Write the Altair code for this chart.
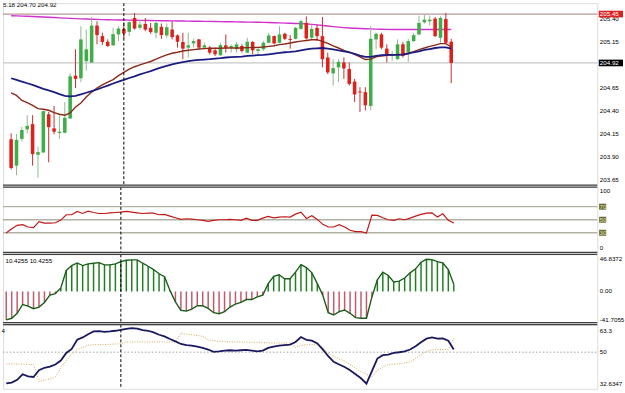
import altair as alt
import pandas as pd

# ---------------- data ----------------
open_ = [204.093, 203.807, 204.097, 204.200, 204.257, 203.925, 203.950, 204.364, 204.211, 204.161,
         204.164, 204.318, 204.782, 204.754, 204.939, 204.925, 205.325, 205.211, 205.150, 205.111,
         205.229, 205.289, 205.257, 205.407, 205.300, 205.343, 205.300, 205.247, 205.311, 205.218,
         205.282, 205.218, 205.147, 205.086, 205.132, 205.175, 205.086, 205.086, 205.057, 205.004,
         205.111, 205.086, 205.068, 205.104, 205.032, 205.147, 205.050, 205.068, 205.139, 205.211,
         205.139, 205.236, 205.180, 205.182, 205.289, 205.354, 205.193, 205.300, 205.211, 204.979,
         204.807, 204.872, 204.925, 204.854, 204.718, 204.610, 204.604, 204.454, 205.175, 205.229,
         205.075, 204.996, 204.961, 205.122, 205.032, 205.157, 205.229, 205.361, 205.372, 205.400,
         205.193, 205.396, 205.150]
high = [204.157, 204.150, 204.229, 204.354, 204.354, 204.014, 204.407, 204.389, 204.454, 204.354,
        204.497, 204.807, 205.068, 205.318, 205.282, 205.418, 205.372, 205.247, 205.175, 205.300,
        205.318, 205.361, 205.372, 205.461, 205.389, 205.407, 205.354, 205.372, 205.347, 205.347,
        205.372, 205.229, 205.247, 205.247, 205.182, 205.180, 205.139, 205.104, 205.086, 205.139,
        205.229, 205.122, 205.147, 205.122, 205.193, 205.157, 205.086, 205.157, 205.247, 205.218,
        205.318, 205.247, 205.222, 205.311, 205.389, 205.425, 205.336, 205.336, 205.418, 205.032,
        204.961, 204.961, 204.979, 204.925, 204.747, 204.657, 204.657, 205.318, 205.247, 205.247,
        205.122, 205.050, 205.175, 205.147, 205.182, 205.247, 205.432, 205.443, 205.432, 205.418,
        205.425, 205.461, 205.180]
low = [203.764, 203.704, 204.068, 204.157, 203.807, 203.675, 203.943, 203.843, 204.147, 204.097,
       204.157, 204.311, 204.647, 204.711, 204.836, 204.918, 205.122, 205.114, 205.093, 205.104,
       205.157, 205.186, 205.211, 205.282, 205.282, 205.264, 205.236, 205.186, 205.182, 205.193,
       205.175, 205.086, 204.961, 204.979, 205.086, 205.068, 205.068, 205.014, 204.996, 204.996,
       205.032, 205.032, 205.032, 205.032, 205.025, 205.014, 205.014, 205.050, 205.132, 205.122,
       205.132, 205.168, 205.075, 205.175, 205.282, 205.175, 205.175, 205.157, 204.872, 204.800,
       204.675, 204.711, 204.747, 204.675, 204.497, 204.389, 204.407, 204.407, 205.068, 205.068,
       204.925, 204.943, 204.954, 204.979, 204.932, 205.147, 205.218, 205.347, 205.325, 205.200,
       205.139, 205.132, 204.700]
close = [203.782, 204.086, 204.193, 204.239, 203.932, 203.954, 204.397, 204.225, 204.175, 204.175,
         204.325, 204.775, 204.747, 205.175, 205.068, 205.325, 205.222, 205.147, 205.104, 205.232,
         205.293, 205.239, 205.361, 205.293, 205.336, 205.282, 205.254, 205.354, 205.222, 205.307,
         205.200, 205.150, 205.075, 205.111, 205.157, 205.086, 205.111, 205.032, 205.014, 205.114,
         205.086, 205.104, 205.122, 205.050, 205.150, 205.057, 205.068, 205.139, 205.218, 205.132,
         205.229, 205.182, 205.170, 205.300, 205.372, 205.186, 205.289, 205.211, 204.961, 204.818,
         204.864, 204.932, 204.861, 204.693, 204.579, 204.600, 204.461, 205.182, 205.236, 205.086,
         205.004, 205.014, 205.122, 204.996, 205.157, 205.222, 205.354, 205.389, 205.389, 205.211,
         205.407, 205.139, 204.920]
ma_fast = [204.597, 204.568, 204.514, 204.489, 204.461, 204.425, 204.418, 204.407, 204.382, 204.364,
           204.354, 204.379, 204.443, 204.486, 204.550, 204.604, 204.647, 204.682, 204.711, 204.739,
           204.782, 204.818, 204.854, 204.879, 204.900, 204.918, 204.936, 204.961, 204.986, 205.007,
           205.025, 205.036, 205.050, 205.057, 205.064, 205.071, 205.075, 205.079, 205.079, 205.079,
           205.082, 205.082, 205.082, 205.082, 205.086, 205.086, 205.089, 205.093, 205.100, 205.107,
           205.118, 205.125, 205.136, 205.147, 205.157, 205.164, 205.172, 205.172, 205.154, 205.132,
           205.104, 205.082, 205.057, 205.036, 205.014, 204.986, 204.957, 204.961, 204.986, 204.996,
           205.004, 205.007, 205.011, 205.014, 205.025, 205.043, 205.064, 205.082, 205.100, 205.114,
           205.129, 205.129, 205.093]
ma_mid = [204.754, 204.736, 204.718, 204.700, 204.682, 204.661, 204.639, 204.622, 204.604, 204.582,
          204.564, 204.557, 204.564, 204.579, 204.597, 204.614, 204.632, 204.654, 204.675, 204.697,
          204.718, 204.736, 204.757, 204.775, 204.797, 204.814, 204.832, 204.854, 204.872, 204.889,
          204.904, 204.918, 204.929, 204.939, 204.947, 204.954, 204.957, 204.961, 204.968, 204.972,
          204.979, 204.982, 204.986, 204.989, 204.996, 205.000, 205.004, 205.007, 205.014, 205.021,
          205.029, 205.036, 205.039, 205.046, 205.057, 205.068, 205.075, 205.079, 205.082, 205.075,
          205.068, 205.057, 205.046, 205.036, 205.018, 205.000, 204.986, 204.986, 204.996, 205.004,
          205.007, 205.007, 205.007, 205.011, 205.021, 205.036, 205.046, 205.061, 205.071, 205.082,
          205.089, 205.089, 205.075]
ma_slow = [205.432, 205.430, 205.428, 205.426, 205.424, 205.421, 205.418, 205.415, 205.412, 205.409,
           205.406, 205.403, 205.400, 205.398, 205.396, 205.394, 205.392, 205.390, 205.388, 205.387,
           205.386, 205.385, 205.384, 205.383, 205.382, 205.381, 205.380, 205.379, 205.378, 205.377,
           205.376, 205.375, 205.374, 205.373, 205.372, 205.372, 205.371, 205.370, 205.369, 205.368,
           205.367, 205.366, 205.365, 205.364, 205.363, 205.362, 205.361, 205.360, 205.358, 205.356,
           205.354, 205.352, 205.350, 205.348, 205.346, 205.343, 205.338, 205.332, 205.326, 205.320,
           205.314, 205.308, 205.303, 205.299, 205.296, 205.293, 205.291, 205.289, 205.287, 205.285,
           205.284, 205.283, 205.282, 205.282, 205.282, 205.282, 205.282, 205.282, 205.282, 205.282,
           205.282, 205.282, 205.282]
rsi = [29.7, 36.3, 41.4, 42.4, 38.9, 37.8, 47.0, 44.9, 44.9, 45.4,
       49.5, 57.6, 57.6, 62.7, 59.6, 63.2, 61.1, 59.6, 59.6, 60.6,
       61.1, 61.6, 62.7, 61.6, 60.6, 59.6, 60.1, 60.1, 57.6, 58.1,
       55.6, 53.0, 50.5, 51.5, 51.0, 50.0, 49.0, 47.5, 49.0, 50.0,
       50.0, 50.5, 50.0, 49.0, 52.5, 49.0, 49.0, 52.5, 55.1, 53.0,
       54.1, 54.6, 54.1, 58.6, 61.6, 52.0, 56.1, 50.5, 42.9, 38.9,
       38.9, 42.4, 38.9, 33.8, 31.8, 31.8, 29.7, 57.1, 56.6, 53.0,
       50.0, 49.0, 51.5, 50.0, 52.5, 55.6, 58.1, 60.1, 60.6, 54.1,
       59.1, 49.0, 44.9]
hist = [-41.5, -39.1, -31.9, -19.0, -21.4, -25.2, -22.8, -16.1, -5.5, -3.1,
        5.0, 30.5, 37.7, 41.5, 37.7, 40.1, 41.1, 42.0, 38.7, 38.7,
        40.1, 43.5, 45.4, 45.9, 45.9, 41.1, 36.7, 31.9, 25.7, 21.4,
        1.5, -15.1, -27.6, -28.6, -25.7, -20.9, -20.9, -24.7, -31.0, -32.4,
        -29.5, -22.8, -18.5, -16.1, -11.8, -11.8, -7.9, -5.5, 11.3, 21.9,
        24.3, 18.5, 18.5, 28.1, 39.1, 34.8, 27.1, 11.3, -5.5, -31.0,
        -34.3, -29.5, -27.1, -31.9, -38.2, -39.1, -39.1, -8.0, 17.0, 28.0,
        23.3, 13.7, 15.1, 19.5, 27.1, 32.9, 42.5, 46.8, 46.3, 43.5,
        41.5, 31.9, 10.4]
osc_main = [32.8, 33.2, 34.7, 37.8, 36.7, 36.3, 40.0, 41.4, 42.0, 43.2,
            45.4, 49.6, 51.8, 56.9, 58.2, 60.0, 61.5, 61.7, 61.3, 61.5,
            61.9, 62.4, 63.0, 63.3, 63.1, 62.2, 61.9, 61.0, 59.7, 58.8,
            57.3, 56.0, 54.6, 54.0, 53.7, 53.1, 52.4, 51.5, 50.2, 50.5,
            50.9, 51.1, 50.9, 51.1, 51.3, 50.9, 50.5, 50.9, 52.4, 53.1,
            53.7, 54.0, 54.2, 55.7, 58.4, 56.9, 56.4, 54.9, 51.6, 47.8,
            44.7, 43.2, 41.8, 40.0, 37.8, 35.6, 32.63, 39.6, 46.5, 48.4,
            48.7, 49.6, 50.0, 50.5, 51.5, 53.3, 55.5, 57.5, 58.2, 57.5,
            57.7, 56.4, 51.5]
osc_signal = [43.6, 43.6, 43.4, 43.4, 43.2, 43.2, 33.8, 34.5, 35.2, 36.3,
              41.4, 45.4, 48.7, 51.5, 52.7, 53.7, 54.2, 54.2, 54.2, 54.4,
              54.6, 54.7, 55.7, 55.7, 55.7, 55.7, 55.7, 55.7, 55.7, 55.7,
              55.7, 55.7, 60.6, 60.0, 59.7, 59.3, 58.8, 56.9, 56.4, 56.0,
              56.0, 55.7, 55.7, 55.7, 55.7, 55.5, 55.5, 55.3, 55.3, 55.1,
              55.1, 55.1, 55.1, 52.7, 53.7, 54.2, 54.2, 54.2, 52.4, 49.3,
              47.8, 46.3, 45.1, 43.2, 41.1, 39.2, 37.8, 36.3, 40.0, 41.8,
              43.2, 43.4, 43.6, 44.0, 44.7, 46.5, 48.7, 50.5, 51.3, 51.5,
              51.5, 51.5, 57.8]

price_ticks = [203.65, 203.90, 204.15, 204.40, 204.65, 204.90, 205.15, 205.40]
price_labels = [203.65, 203.90, 204.15, 204.40, 204.65, 205.15, 205.40]
ask_level = 205.45
bid_level = 204.92
rsi_levels = [30, 50, 70]
rsi_plain_txt = ["100", "0"]
rsi_plain_pos = [94, 6]
hist_label_vals = [46.8372, 0.0, -41.7055]
hist_label_txt = ["46.8372", "0.00", "-41.7055"]
osc_label_pos = [61.7, 50, 32.5]
osc_label_txt = ["63.3", "50", "32.6347"]
time_ticks = [2, 10, 18, 26, 34, 42, 50, 58, 66, 74, 82]
cursor_bar = 21
ohlc_text = "5.18 204.70 204.92"
hist_text = "10.4255 10.4255"

# ---------------- styling / layout ----------------
W = 601
FONT = "Liberation Sans"
FS = 6.3
H1, H2, H3, H4 = 184, 66, 69, 65
UP, DOWN = "#3fae49", "#e0201c"
WICK_UP, WICK_DOWN = "#8fb98f", "#c03030"
BOX1_HALF = 0.036   # half height of price tag boxes, in price units (~3.4 px)
BOX2_HALF = 4.6     # half height of level tag boxes, in RSI units (~3 px)

n = len(close)
df = pd.DataFrame({"i": list(range(n)), "o": open_, "h": high, "l": low, "c": close,
                   "fast": ma_fast, "mid": ma_mid, "slow": ma_slow,
                   "rsi": rsi, "hist": hist, "zero": [0.0] * n,
                   "om": osc_main, "os": osc_signal})
one = pd.DataFrame({"a": [0]})

xs = alt.Scale(domain=[-0.6, 108.3], nice=False, zero=False)
X = alt.X("i:Q", scale=xs, axis=None)


def yaxis(vals):
    return alt.Axis(orient="right", values=vals, labels=False, ticks=True, tickSize=2,
                    tickColor="black", domainColor="black", domainWidth=1, grid=False, title=None)


def borders(h, top=True, bottom=True):
    layers = []
    if top:
        layers.append(alt.Chart(one).mark_rule(color="#404040", strokeWidth=1.2).encode(
            x=alt.value(0), x2=alt.value(W), y=alt.value(0)))
    if bottom:
        layers.append(alt.Chart(one).mark_rule(color="#404040", strokeWidth=1.2).encode(
            x=alt.value(0), x2=alt.value(W), y=alt.value(h)))
    return layers


def cursor(h):
    return alt.Chart(pd.DataFrame({"i": [cursor_bar]})).mark_rule(
        color="black", strokeWidth=1, strokeDash=[3, 2]).encode(
        x=X, y=alt.value(0), y2=alt.value(h))


def labels(vals, txts, ys, color="black"):
    d = pd.DataFrame({"v": vals, "t": txts})
    return alt.Chart(d).mark_text(align="left", baseline="middle", font=FONT, fontSize=FS,
                                  color=color).encode(
        x=alt.value(W + 2.5), y=alt.Y("v:Q", scale=ys, axis=None), text="t:N")


# ---------------- panel 1: price ----------------
ys1 = alt.Scale(domain=[203.596, 205.568], nice=False, zero=False)
ask_rule = alt.Chart(pd.DataFrame({"v": [ask_level]})).mark_rule(
    color="#b89898", strokeWidth=1.3).encode(
    x=alt.value(0), x2=alt.value(W), y=alt.Y("v:Q", scale=ys1, axis=yaxis(price_ticks)))
bid_rule = alt.Chart(pd.DataFrame({"v": [bid_level]})).mark_rule(
    color="#c8c8c8", strokeWidth=1.2).encode(
    x=alt.value(0), x2=alt.value(W), y=alt.Y("v:Q", scale=ys1, axis=None))
is_up = "datum.c >= datum.o"
wick = alt.Chart(df).mark_rule(strokeWidth=1).encode(
    x=X, y=alt.Y("l:Q", scale=ys1, axis=None), y2="h:Q",
    color=alt.condition(is_up, alt.value(WICK_UP), alt.value(WICK_DOWN)))
body = alt.Chart(df).mark_bar(size=3.6).encode(
    x=X, y=alt.Y("o:Q", scale=ys1, axis=None), y2="c:Q",
    color=alt.condition(is_up, alt.value(UP), alt.value(DOWN)))
l_slow = alt.Chart(df).mark_line(color="#d030d0", strokeWidth=1.4).encode(
    x=X, y=alt.Y("slow:Q", scale=ys1, axis=None))
l_fast = alt.Chart(df).mark_line(color="#8a2a1c", strokeWidth=1.4).encode(
    x=X, y=alt.Y("fast:Q", scale=ys1, axis=None))
l_mid = alt.Chart(df).mark_line(color="#1c1c82", strokeWidth=1.8).encode(
    x=X, y=alt.Y("mid:Q", scale=ys1, axis=None))
lab1 = labels(price_labels, [f"{v:.2f}" for v in price_labels], ys1)
tag_df = pd.DataFrame({"v": [ask_level, bid_level],
                       "t": [f"{ask_level:.2f}", f"{bid_level:.2f}"],
                       "k": ["ask", "bid"]})
tag_df["top"] = tag_df["v"] + BOX1_HALF
tag_df["bot"] = tag_df["v"] - BOX1_HALF
tags = alt.Chart(tag_df).mark_rect().encode(
    x=alt.value(W + 1.5), x2=alt.value(W + 26),
    y=alt.Y("top:Q", scale=ys1, axis=None), y2="bot:Q",
    color=alt.Color("k:N", scale=alt.Scale(domain=["ask", "bid"], range=["#e02020", "#000000"]),
                    legend=None))
tag_txt = alt.Chart(tag_df).mark_text(align="left", baseline="middle", font=FONT, fontSize=FS,
                                      color="white").encode(
    x=alt.value(W + 2.5), y=alt.Y("v:Q", scale=ys1, axis=None), text="t:N")
top_txt = alt.Chart(one).mark_text(align="left", baseline="alphabetic", font=FONT, fontSize=FS,
                                   color="black", clip=True).encode(
    x=alt.value(0), y=alt.value(3.5), text=alt.value(ohlc_text))
p1 = alt.layer(ask_rule, bid_rule, l_slow, wick, body, l_fast, l_mid, cursor(H1), lab1, tags,
               tag_txt, top_txt, *borders(H1, top=False)).properties(width=W, height=H1)

# ---------------- panel 2: RSI ----------------
ys2 = alt.Scale(domain=[0, 100], nice=False, zero=False)
lv = alt.Chart(pd.DataFrame({"v": rsi_levels})).mark_rule(color="#b2b2a2", strokeWidth=1.4).encode(
    x=alt.value(0), x2=alt.value(W), y=alt.Y("v:Q", scale=ys2, axis=yaxis([0, 30, 50, 70, 100])))
rsi_line = alt.Chart(df).mark_line(color="#c01818", strokeWidth=1.2).encode(
    x=X, y=alt.Y("rsi:Q", scale=ys2, axis=None))
lv_df = pd.DataFrame({"v": rsi_levels, "t": [str(v) for v in rsi_levels]})
lv_df["top"] = lv_df["v"] + BOX2_HALF
lv_df["bot"] = lv_df["v"] - BOX2_HALF
lvbox = alt.Chart(lv_df).mark_rect(color="#6a6a3a").encode(
    x=alt.value(W + 1.8), x2=alt.value(W + 9),
    y=alt.Y("top:Q", scale=ys2, axis=None), y2="bot:Q")
lvtxt = alt.Chart(lv_df).mark_text(align="left", baseline="middle", font=FONT, fontSize=FS,
                                   color="#e2e2a0").encode(
    x=alt.value(W + 2.3), y=alt.Y("v:Q", scale=ys2, axis=None), text="t:N")
lab2 = labels(rsi_plain_pos, rsi_plain_txt, ys2)
p2 = alt.layer(lv, rsi_line, cursor(H2), lvbox, lvtxt, lab2, *borders(H2)).properties(
    width=W, height=H2)

# ---------------- panel 3: histogram ----------------
ys3 = alt.Scale(domain=[-45.39, 54.03], nice=False, zero=False)
hbars = alt.Chart(df).mark_rule(strokeWidth=1.5).encode(
    x=X, y=alt.Y("zero:Q", scale=ys3, axis=yaxis(hist_label_vals)), y2="hist:Q",
    color=alt.condition("datum.hist >= 0", alt.value("#1f7f1f"), alt.value("#c25a6c")))
hline = alt.Chart(df).mark_line(color="#1b5e1b", strokeWidth=1.4).encode(
    x=X, y=alt.Y("hist:Q", scale=ys3, axis=None))
lab3 = labels(hist_label_vals, hist_label_txt, ys3)
txt3 = alt.Chart(one).mark_text(align="left", baseline="middle", font=FONT, fontSize=FS,
                                color="black").encode(
    x=alt.value(2.5), y=alt.value(7), text=alt.value(hist_text))
p3 = alt.layer(hbars, hline, cursor(H3), lab3, txt3, *borders(H3)).properties(width=W, height=H3)

# ---------------- panel 4: oscillator ----------------
ys4 = alt.Scale(domain=[29.74, 65.33], nice=False, zero=False)
X4 = alt.X("i:Q", scale=xs, axis=alt.Axis(values=time_ticks, labels=False, tickSize=3,
                                          tickColor="black", domainColor="black", grid=False,
                                          title=None))
mid50 = alt.Chart(pd.DataFrame({"v": [50]})).mark_rule(
    color="#c0c0c0", strokeWidth=1.3, strokeDash=[1.5, 2]).encode(
    x=alt.value(0), x2=alt.value(W), y=alt.Y("v:Q", scale=ys4, axis=yaxis([32.6347, 50, 63.3])))
sig = alt.Chart(df).mark_line(color="#d9a55a", strokeWidth=1, strokeDash=[1, 1.5]).encode(
    x=X4, y=alt.Y("os:Q", scale=ys4, axis=None))
mainl = alt.Chart(df).mark_line(color="#191960", strokeWidth=1.8).encode(
    x=X, y=alt.Y("om:Q", scale=ys4, axis=None))
lab4 = labels(osc_label_pos, osc_label_txt, ys4)
txt4 = alt.Chart(one).mark_text(align="right", baseline="middle", font=FONT, fontSize=FS,
                                color="black").encode(
    x=alt.value(2), y=alt.value(7), text=alt.value("4"))
p4 = alt.layer(mid50, sig, mainl, cursor(H4), lab4, txt4, *borders(H4, bottom=False)).properties(
    width=W, height=H4)

chart = alt.vconcat(p1, p2, p3, p4, spacing=2, bounds="flush", padding=0).configure_view(
    stroke=None).configure(background="white")

chart.save("out.html", embed_options={"renderer": "svg", "actions": False})
